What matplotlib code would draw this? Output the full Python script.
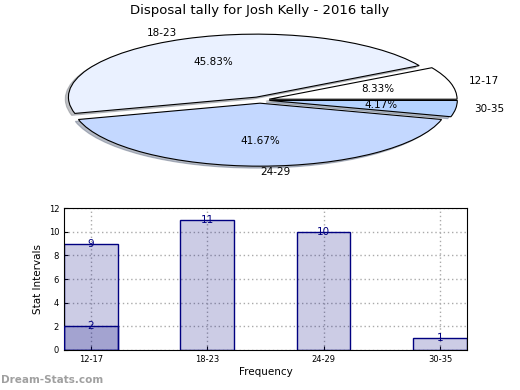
import matplotlib
matplotlib.use("Agg")
import matplotlib.pyplot as plt
import numpy as np

title = "Disposal tally for Josh Kelly - 2016 tally"
pie_labels = ["12-17", "18-23", "24-29", "30-35"]
pie_values = [2, 11, 10, 1]
pie_colors = ["#ffffff", "#eaf1ff", "#c4d8ff", "#b5d3ff"]

bar_categories = ["12-17", "18-23", "24-29", "30-35"]
bar_totals = [9, 11, 10, 1]
bar_sub = [2]  # overlay series on first category

fig = plt.figure(figsize=(5.2, 3.9), dpi=100)

# Pie
axp = fig.add_axes([0.1385, 0.582, 0.723, 0.323])
wedges, texts, autotexts = axp.pie(
    pie_values, labels=pie_labels, colors=pie_colors, explode=[0.05] * 4,
    autopct="%.2f%%", shadow=dict(ox=-0.012, oy=-0.022, shade=0.45),
    startangle=0, counterclock=True,
    wedgeprops=dict(edgecolor="black", linewidth=0.8),
    textprops=dict(fontsize=7.5))
axp.set_aspect("auto")
axp.set_xlim(-1, 1)
axp.set_ylim(-1, 1)
fig.text(0.5, 0.974, title, ha="center", va="center", fontsize=9.5)

# Bars
axb = fig.add_axes([0.123, 0.1026, 0.775, 0.364])
x = np.arange(len(bar_categories))
w = 0.46
face = (0, 0, 0.5, 0.2)
axb.bar(x, bar_totals, width=w, color=face, edgecolor="navy", linewidth=1, zorder=2)
axb.bar(x[:len(bar_sub)], bar_sub, width=w, color=face, edgecolor="navy", linewidth=1, zorder=3)
for xi, v in zip(x, bar_totals):
    axb.text(xi, v, str(v), ha="center", va="center", color="navy", fontsize=7.5, zorder=4)
for xi, v in zip(x, bar_sub):
    axb.text(xi, v, str(v), ha="center", va="center", color="navy", fontsize=7.5, zorder=4)
axb.set_xlim(-w / 2, len(x) - 1 + w / 2)
axb.set_ylim(0, 12)
axb.set_yticks(range(0, 13, 2))
axb.set_xticks(x)
axb.set_xticklabels(bar_categories)
axb.tick_params(labelsize=6, direction="in", length=3)
axb.grid(True, linestyle=(0, (1, 2)), color="#aaaaaa", linewidth=1, zorder=0)
axb.set_axisbelow(True)
axb.set_xlabel("Frequency", fontsize=7.5, labelpad=2)
axb.set_ylabel("Stat Intervals", fontsize=7.5)

fig.text(0.002, 0.025, "Dream-Stats.com", color="#a0a0a0", fontsize=7.5, fontweight="bold", ha="left", va="center")

fig.savefig("out.png", dpi=100)
